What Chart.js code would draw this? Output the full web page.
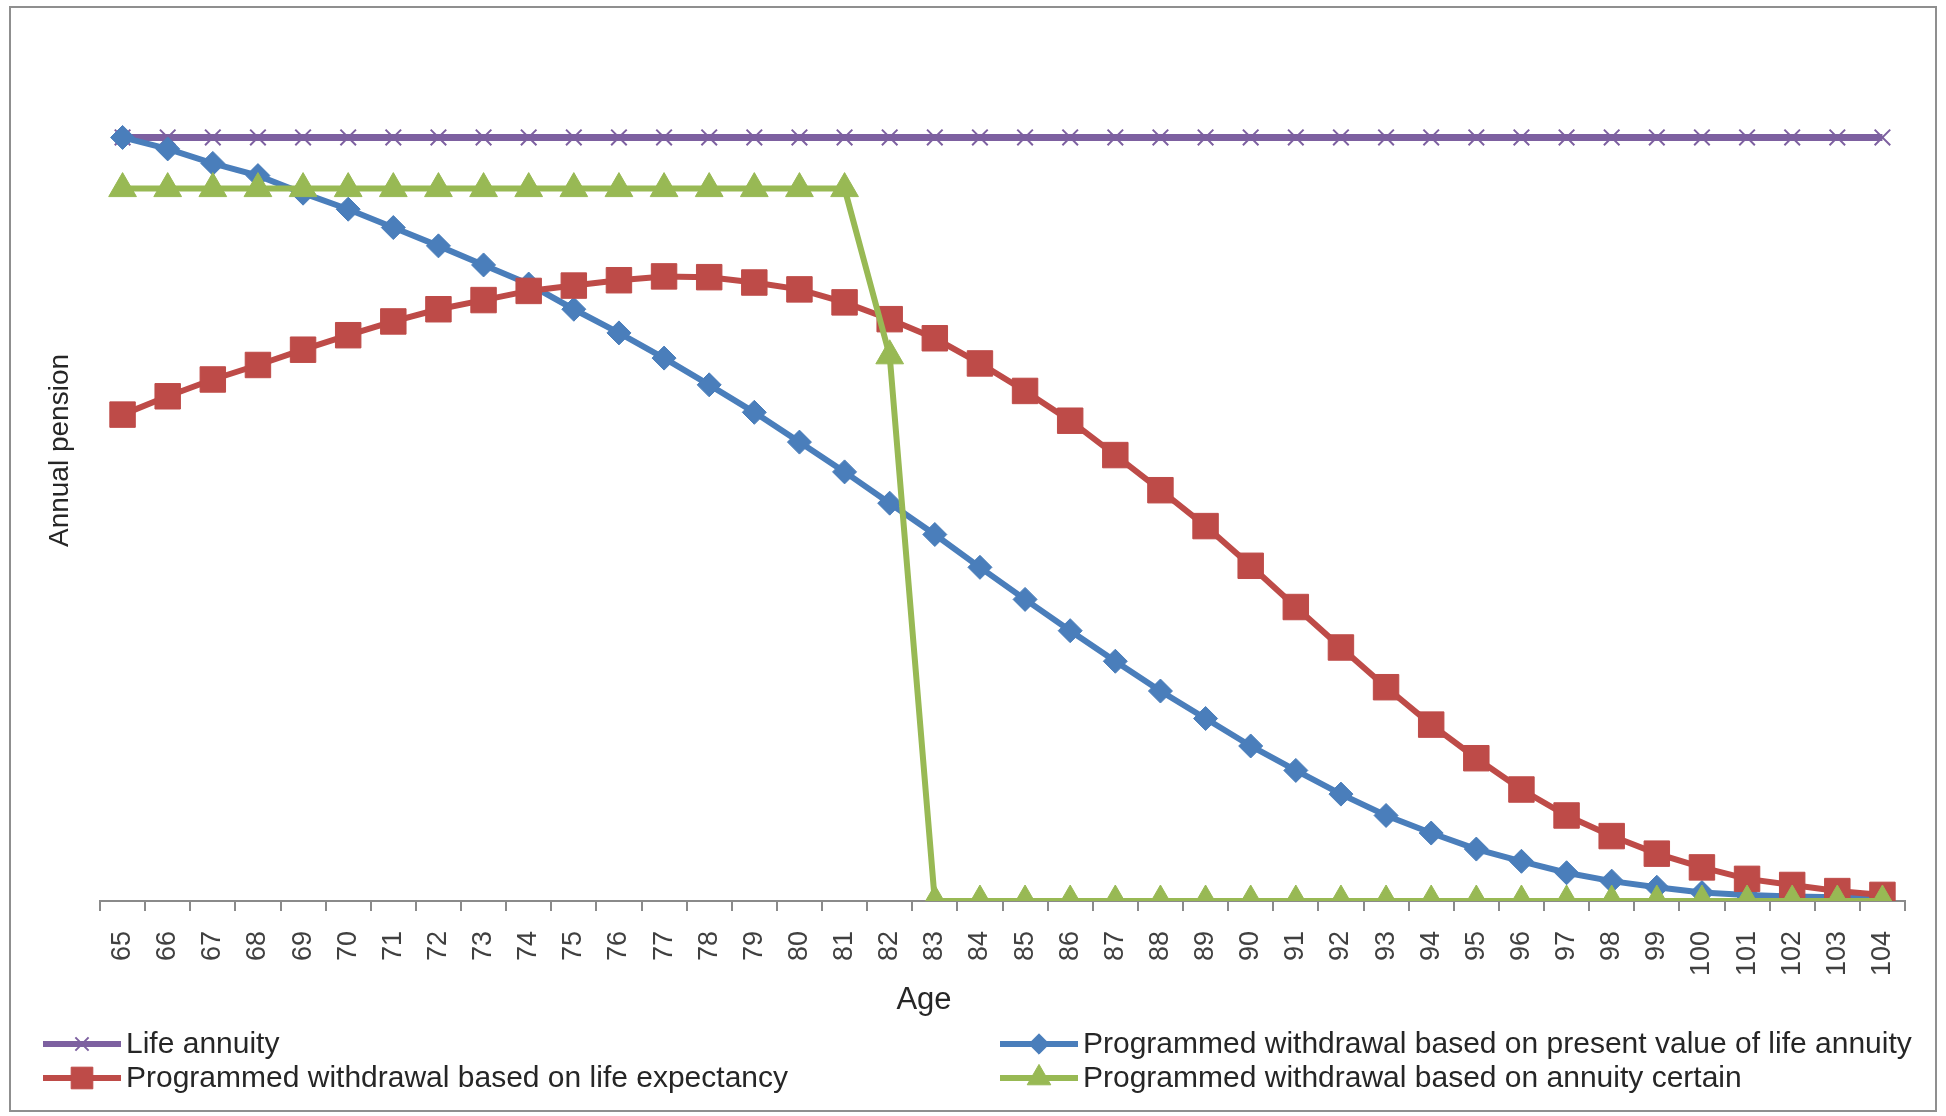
<!DOCTYPE html>
<html>
<head>
<meta charset="utf-8">
<style>
  html, body { margin: 0; padding: 0; background: #ffffff; }
  #wrap { position: absolute; left: 0; top: 0; width: 1946px; height: 1116px; }
</style>
<script src="https://cdn.jsdelivr.net/npm/chart.js@4.4.1/dist/chart.umd.min.js"></script>
</head>
<body>
<div id="wrap"><canvas id="pensionChart"></canvas></div>
<script>
// ages on the x axis
const ages = ["65", "66", "67", "68", "69", "70", "71", "72", "73", "74",
              "75", "76", "77", "78", "79", "80", "81", "82", "83", "84",
              "85", "86", "87", "88", "89", "90", "91", "92", "93", "94",
              "95", "96", "97", "98", "99", "100", "101", "102", "103", "104"];

// annual pension, life annuity = 100
const lifeAnnuity = [100, 100, 100, 100, 100, 100, 100, 100, 100, 100,
                     100, 100, 100, 100, 100, 100, 100, 100, 100, 100,
                     100, 100, 100, 100, 100, 100, 100, 100, 100, 100,
                     100, 100, 100, 100, 100, 100, 100, 100, 100, 100];

const presentValue = [100, 98.5, 96.6, 95.0, 92.7, 90.6, 88.2, 85.8, 83.3, 80.8,
                      77.5, 74.4, 71.1, 67.6, 64.0, 60.1, 56.2, 52.1, 48.0, 43.7,
                      39.5, 35.4, 31.4, 27.5, 23.9, 20.3, 17.1, 14.0, 11.2, 8.9,
                      6.8, 5.2, 3.7, 2.6, 1.8, 1.1, 0.8, 0.6, 0.5, 0.3];

const lifeExpectancy = [63.7, 66.1, 68.3, 70.2, 72.2, 74.1, 75.9, 77.5, 78.7, 79.9,
                        80.6, 81.3, 81.8, 81.7, 81.0, 80.1, 78.4, 76.2, 73.7, 70.4,
                        66.8, 62.9, 58.4, 53.8, 49.1, 43.9, 38.5, 33.2, 28.0, 23.1,
                        18.7, 14.6, 11.2, 8.5, 6.2, 4.4, 2.9, 2.1, 1.3, 0.8];

const annuityCertain = [93.3, 93.3, 93.3, 93.3, 93.3, 93.3, 93.3, 93.3, 93.3, 93.3,
                        93.3, 93.3, 93.3, 93.3, 93.3, 93.3, 93.3, 71.4, 0, 0,
                        0, 0, 0, 0, 0, 0, 0, 0, 0, 0,
                        0, 0, 0, 0, 0, 0, 0, 0, 0, 0];

const FONT = "'Liberation Sans', Arial, sans-serif";

// frame, x title and the two-column legend
const framePlugin = {
    id: "frame",
    beforeDraw(chart) {
        const ctx = chart.ctx;
        ctx.save();
        ctx.fillStyle = "#ffffff";
        ctx.fillRect(0, 0, chart.width, chart.height);
        ctx.strokeStyle = "#8f8f8f";
        ctx.lineWidth = 2;
        ctx.strokeRect(10, 7, 1926, 1104);
        ctx.restore();
    },
    afterDraw(chart) {
        const ctx = chart.ctx;
        ctx.save();
        ctx.fillStyle = "#262626";
        ctx.font = "31px " + FONT;
        ctx.textAlign = "center";
        ctx.textBaseline = "middle";
        ctx.fillText("Age", 924, 1000);

        const slots = [
            { x: 43, y: 1044 },   // life annuity
            { x: 1000, y: 1044 }, // present value
            { x: 43, y: 1078 },   // life expectancy
            { x: 1000, y: 1078 }  // annuity certain
        ];
        chart.data.datasets.forEach((ds, i) => {
            const s = slots[i];
            ctx.strokeStyle = ds.borderColor;
            ctx.lineWidth = 6;
            ctx.beginPath();
            ctx.moveTo(s.x, s.y);
            ctx.lineTo(s.x + 78, s.y);
            ctx.stroke();
            ctx.fillStyle = ds.pointBackgroundColor;
            ctx.strokeStyle = ds.pointBorderColor;
            ctx.lineWidth = ds.pointBorderWidth;
            Chart.helpers.drawPoint(ctx, {
                pointStyle: ds.pointStyle,
                radius: ds.pointRadius * 0.85,
                rotation: 0,
                borderWidth: ds.pointBorderWidth
            }, s.x + 39, s.y);
            ctx.fillStyle = "#262626";
            ctx.font = "30px " + FONT;
            ctx.textAlign = "left";
            ctx.fillText(ds.label, s.x + 83, s.y + 1);
        });
        ctx.restore();
    }
};

new Chart(document.getElementById("pensionChart"), {
    type: "line",
    data: {
        labels: ages,
        datasets: [
            {
                label: "Life annuity",
                data: lifeAnnuity,
                borderColor: "#7D60A0",
                borderWidth: 7,
                pointStyle: "crossRot",
                pointRadius: 11,
                pointBorderWidth: 2,
                pointBackgroundColor: "#7D60A0",
                pointBorderColor: "#7D60A0",
                order: 3
            },
            {
                label: "Programmed withdrawal based on present value of life annuity",
                data: presentValue,
                borderColor: "#4A7EBB",
                borderWidth: 6,
                pointStyle: "rectRot",
                pointRadius: 12,
                pointBorderWidth: 1,
                pointBackgroundColor: "#4A7EBB",
                pointBorderColor: "#4A7EBB",
                order: 2
            },
            {
                label: "Programmed withdrawal based on life expectancy",
                data: lifeExpectancy,
                borderColor: "#BE4B48",
                borderWidth: 6,
                pointStyle: "rect",
                pointRadius: 18,
                pointBorderWidth: 1,
                pointBackgroundColor: "#BE4B48",
                pointBorderColor: "#BE4B48",
                order: 1
            },
            {
                label: "Programmed withdrawal based on annuity certain",
                data: annuityCertain,
                borderColor: "#98B954",
                borderWidth: 6,
                pointStyle: "triangle",
                pointRadius: 16,
                pointBorderWidth: 1,
                pointBackgroundColor: "#98B954",
                pointBorderColor: "#98B954",
                order: 0
            }
        ]
    },
    options: {
        responsive: true,
        maintainAspectRatio: false,
        animation: false,
        layout: { autoPadding: false, padding: { left: 0, right: 41, top: 0, bottom: 0 } },
        plugins: {
            legend: { display: false },
            tooltip: { enabled: false }
        },
        scales: {
            x: {
                type: "category",
                offset: true,
                grid: {
                    offset: true,
                    drawOnChartArea: false,
                    drawTicks: true,
                    tickLength: 10,
                    color: "#8a8a8a",
                    lineWidth: 2
                },
                border: { display: true, color: "#8a8a8a", width: 2 },
                ticks: {
                    autoSkip: false,
                    minRotation: 90,
                    maxRotation: 90,
                    padding: 20,
                    color: "#404040",
                    font: { family: FONT, size: 27 }
                },
                afterFit(scale) { scale.height = 215; }
            },
            y: {
                min: 0,
                max: 118,
                grid: { display: false },
                border: { display: false },
                ticks: { display: false },
                title: {
                    display: true,
                    text: "Annual pension",
                    color: "#262626",
                    font: { family: FONT, size: 28 },
                    padding: { top: 43, bottom: 0 }
                },
                afterFit(scale) { scale.width = 100; }
            }
        }
    },
    plugins: [framePlugin]
});
</script>
</body>
</html>
